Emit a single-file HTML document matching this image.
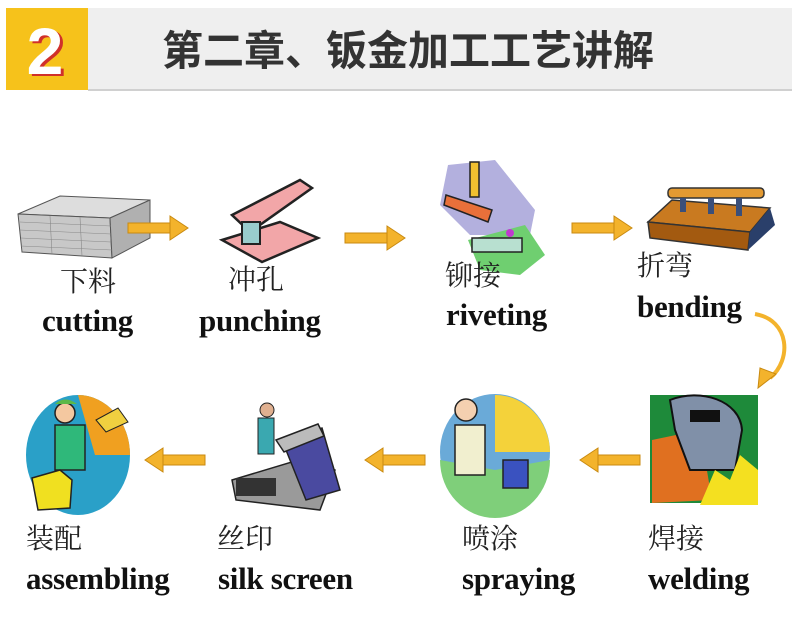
<!DOCTYPE html>
<html><head><meta charset="utf-8"><style>
html,body{margin:0;padding:0;background:#fff;}
body{width:800px;height:636px;position:relative;overflow:hidden;}
.t{position:absolute;white-space:nowrap;}
.cn{font-family:"Liberation Serif","Noto Serif CJK SC",serif;font-size:28px;color:#222;line-height:30px;}
.en{font-family:"Liberation Serif",serif;font-weight:bold;font-size:31px;color:#111;line-height:30px;letter-spacing:-0.3px;}
</style></head><body>
<svg width="800" height="636" style="position:absolute;left:0;top:0">
<defs>
<g id="arr"><rect x="0" y="-5" width="44" height="10" fill="#f3b32c" stroke="#c98a10" stroke-width="1"/><polygon points="42,-12 60,0 42,12" fill="#f3b32c" stroke="#c98a10" stroke-width="1"/></g>
</defs>
<rect x="88" y="8" width="704" height="82" fill="#efefef"/>
<rect x="88" y="89" width="704" height="2" fill="#d0d0d0"/>
<rect x="6" y="8" width="82" height="82" fill="#f6c21b"/>
<text x="48" y="76" text-anchor="middle" font-family="Liberation Sans,sans-serif" font-weight="bold" font-size="66" fill="#d0302a">2</text>
<text x="45" y="74" text-anchor="middle" font-family="Liberation Sans,sans-serif" font-weight="bold" font-size="66" fill="#fff">2</text>
<text x="408" y="65" text-anchor="middle" font-family="Liberation Sans,'Noto Sans CJK SC',sans-serif" font-weight="bold" font-size="41" fill="#333">第二章、钣金加工工艺讲解</text>

<g stroke="#555" stroke-width="1">
<polygon points="18,214 60,196 150,200 110,218" fill="#ddd"/>
<polygon points="18,214 110,218 112,258 22,252" fill="#c8c8c8"/>
<polygon points="110,218 150,200 150,238 112,258" fill="#b0b0b0"/>
</g>
<g stroke="#888" stroke-width="0.6">
<line x1="20" y1="222" x2="111" y2="226"/><line x1="20" y1="230" x2="111" y2="234"/><line x1="21" y1="238" x2="111" y2="242"/><line x1="21" y1="246" x2="112" y2="250"/>
<line x1="50" y1="216" x2="52" y2="254"/><line x1="80" y1="217" x2="82" y2="256"/>
</g>
<use href="#arr" x="128" y="228"/>

<polygon points="222,240 280,222 318,238 262,262" fill="#f2a6a8" stroke="#222" stroke-width="2.5"/>
<polygon points="232,215 300,180 312,188 250,232" fill="#f2a6a8" stroke="#222" stroke-width="2.5"/>
<rect x="242" y="222" width="18" height="22" fill="#9cc" stroke="#222" stroke-width="2"/>
<use href="#arr" x="345" y="238"/>

<polygon points="448,165 495,160 535,210 530,235 470,235 440,205" fill="#b3b0de"/>
<polygon points="468,240 525,225 545,255 520,275 480,270" fill="#6fcf70"/>
<rect x="472" y="238" width="50" height="14" fill="#b8e0d0" stroke="#222" stroke-width="1.5"/>
<polygon points="446,195 492,210 488,222 444,205" fill="#e8703a" stroke="#222" stroke-width="1.5"/>
<rect x="470" y="162" width="9" height="35" fill="#f0c030" stroke="#222" stroke-width="1.5"/>
<circle cx="510" cy="233" r="4" fill="#c03ad0"/>
<use href="#arr" x="572" y="228"/>

<polygon points="648,222 672,200 770,208 750,232" fill="#c97a20" stroke="#333" stroke-width="1.5"/>
<polygon points="648,222 750,232 748,250 650,238" fill="#a35a10" stroke="#333" stroke-width="1.5"/>
<polygon points="750,232 770,208 775,225 748,250" fill="#2a3f6a"/>
<rect x="668" y="188" width="96" height="10" rx="4" fill="#e39a32" stroke="#333" stroke-width="1.5"/>
<g fill="#3a4f7a"><rect x="680" y="198" width="6" height="14"/><rect x="708" y="198" width="6" height="16"/><rect x="736" y="198" width="6" height="18"/></g>

<path d="M755,314 C790,320 792,360 770,378" fill="none" stroke="#f3b32c" stroke-width="4"/>
<polygon points="760,368 776,374 758,388" fill="#f3b32c" stroke="#c98a10"/>

<rect x="650" y="395" width="108" height="108" fill="#1e8a3a"/>
<polygon points="652,440 700,430 712,500 652,503" fill="#e07020"/>
<path d="M670,400 C700,388 740,400 742,430 L735,470 L690,470 L675,430 Z" fill="#8090a8" stroke="#111" stroke-width="2"/>
<rect x="690" y="410" width="30" height="12" fill="#111"/>
<polygon points="700,505 715,470 730,480 740,455 758,470 758,505" fill="#f4e020"/>
<use href="#arr" transform="translate(640,460) scale(-1,1)"/>

<ellipse cx="495" cy="452" rx="55" ry="58" fill="#6aaad8"/>
<path d="M495,395 A55,58 0 0 1 550,452 L495,452 Z" fill="#f4d23a"/>
<path d="M440,460 A55,58 0 0 0 550,460 L495,470 Z" fill="#7fcf7a"/>
<rect x="455" y="425" width="30" height="50" fill="#f1efcf" stroke="#222" stroke-width="1.5"/>
<circle cx="466" cy="410" r="11" fill="#f4d0b0" stroke="#222" stroke-width="1.5"/>
<rect x="503" y="460" width="25" height="28" fill="#3a52c0" stroke="#222" stroke-width="1.5"/>
<use href="#arr" transform="translate(425,460) scale(-1,1)"/>

<polygon points="232,480 305,458 335,470 320,510 236,500" fill="#9a9a9a" stroke="#222" stroke-width="1.5"/>
<polygon points="282,440 322,428 340,490 306,500" fill="#4a4aa0" stroke="#222" stroke-width="1.5"/>
<polygon points="276,440 318,424 324,436 284,452" fill="#bbb" stroke="#222" stroke-width="1.5"/>
<rect x="236" y="478" width="40" height="18" fill="#333"/>
<rect x="258" y="418" width="16" height="36" fill="#3aa8b0" stroke="#222" stroke-width="1"/>
<circle cx="267" cy="410" r="7" fill="#e0b090" stroke="#222" stroke-width="1"/>
<use href="#arr" transform="translate(205,460) scale(-1,1)"/>

<ellipse cx="78" cy="455" rx="52" ry="60" fill="#2aa0c8"/>
<path d="M78,395 A52,60 0 0 1 130,455 L95,455 Z" fill="#f0a020"/>
<rect x="55" y="425" width="30" height="45" fill="#2fb87a" stroke="#222" stroke-width="1.5"/>
<circle cx="65" cy="413" r="10" fill="#f4c8a0" stroke="#222" stroke-width="1.5"/>
<path d="M55,404 Q65,395 77,404 Z" fill="#5cb848"/>
<polygon points="32,478 60,470 72,480 70,508 38,510" fill="#f0e020" stroke="#222" stroke-width="1.5"/>
<polygon points="96,420 118,408 128,422 106,432" fill="#f0d040" stroke="#222" stroke-width="1"/>
</svg>

<div class="t cn" style="left:60px;top:268px">下料</div>
<div class="t en" style="left:42px;top:306px">cutting</div>
<div class="t cn" style="left:228px;top:266px">冲孔</div>
<div class="t en" style="left:199px;top:306px">punching</div>
<div class="t cn" style="left:445px;top:262px">铆接</div>
<div class="t en" style="left:446px;top:300px">riveting</div>
<div class="t cn" style="left:637px;top:252px">折弯</div>
<div class="t en" style="left:637px;top:292px">bending</div>

<div class="t cn" style="left:26px;top:525px">装配</div>
<div class="t en" style="left:26px;top:564px">assembling</div>
<div class="t cn" style="left:217px;top:525px">丝印</div>
<div class="t en" style="left:218px;top:564px">silk screen</div>
<div class="t cn" style="left:462px;top:525px">喷涂</div>
<div class="t en" style="left:462px;top:564px">spraying</div>
<div class="t cn" style="left:648px;top:525px">焊接</div>
<div class="t en" style="left:648px;top:564px">welding</div>
</body></html>
